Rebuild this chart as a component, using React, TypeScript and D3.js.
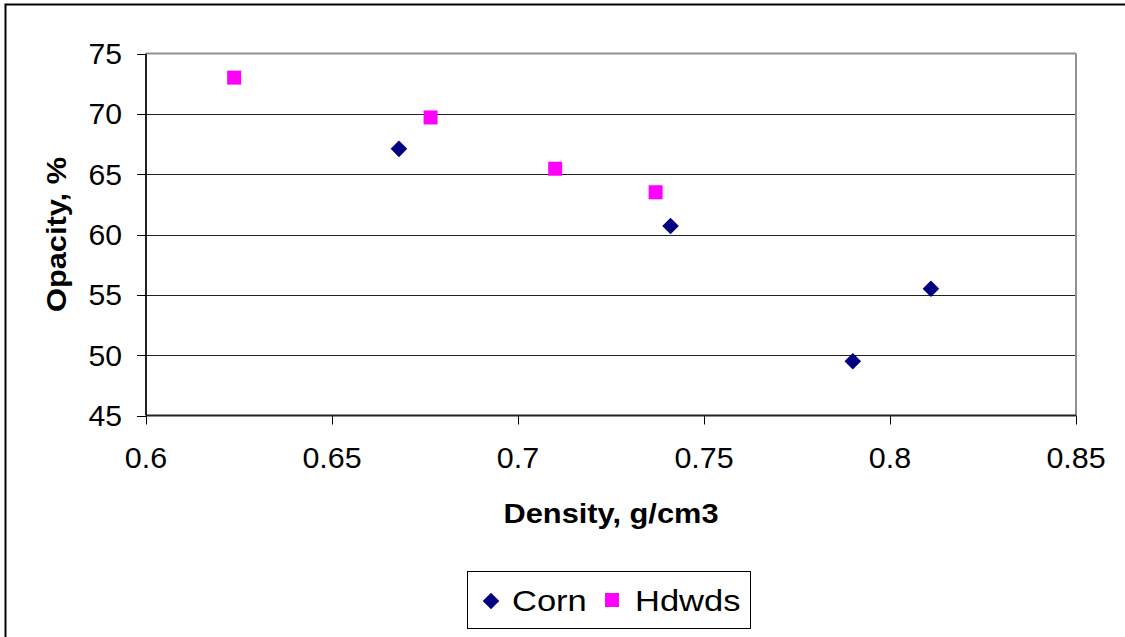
import React from 'react';
import * as d3 from 'd3';

// Density (g/cm3) vs Opacity (%)
const cornDensity = [0.668, 0.741, 0.790, 0.811];
const cornOpacity = [67.1, 60.7, 49.5, 55.5];
const hdwdsDensity = [0.6237, 0.6765, 0.710, 0.737];
const hdwdsOpacity = [73.0, 69.7, 65.45, 63.5];

const xTicks = [0.6, 0.65, 0.7, 0.75, 0.8, 0.85];
const yTicks = [45, 50, 55, 60, 65, 70, 75];

const W = 1125;
const H = 637;
const FONT = "'Liberation Sans', Arial, sans-serif";

const App = () => {
    // plot area
    const left = 146, right = 1076, top = 53.5, bottom = 415.5;

    const x = d3.scaleLinear().domain([0.6, 0.85]).range([left, right]);
    const y = d3.scaleLinear().domain([45, 75]).range([bottom, top]);

    const diamond = (cx: number, cy: number, r: number) =>
        `M${cx},${cy - r}L${cx + r},${cy}L${cx},${cy + r}L${cx - r},${cy}Z`;

    const corn = cornDensity.map((d, i) => ({ x: d, y: cornOpacity[i] }));
    const hdwds = hdwdsDensity.map((d, i) => ({ x: d, y: hdwdsOpacity[i] }));

    return (
        <svg width={W} height={H} style={{ position: 'absolute', left: 0, top: 0, background: '#fff' }}>
            {/* outer chart border (runs off the right and bottom) */}
            <rect x={5.5} y={4.5} width={1300} height={800} fill="#fff" stroke="#000" strokeWidth={2} />

            {/* gridlines */}
            {yTicks.filter(t => t !== 45 && t !== 75).map(t => (
                <line key={'g' + t} x1={left} x2={right} y1={Math.round(y(t)) + 0.5} y2={Math.round(y(t)) + 0.5}
                    stroke="#222" strokeWidth={1} />
            ))}

            {/* plot area border: top and right gray */}
            <line x1={left} x2={right} y1={top} y2={top} stroke="#909090" strokeWidth={2} />
            <line x1={right} x2={right} y1={top} y2={bottom} stroke="#909090" strokeWidth={2} />

            {/* y axis */}
            <line x1={left} x2={left} y1={top} y2={bottom} stroke="#222" strokeWidth={2} />
            {yTicks.map(t => (
                <g key={'y' + t}>
                    <line x1={left - 9} x2={left} y1={Math.round(y(t)) + 0.5} y2={Math.round(y(t)) + 0.5} stroke="#000" />
                    <text transform={`translate(122,${y(t) + 10.5}) scale(1.04,1)`} textAnchor="end"
                        fontFamily={FONT} fontSize={29} fill="#000">
                        {t}
                    </text>
                </g>
            ))}

            {/* x axis */}
            <line x1={left} x2={right} y1={bottom} y2={bottom} stroke="#222" strokeWidth={2} />
            {xTicks.map(t => (
                <g key={'x' + t}>
                    <line x1={Math.round(x(t)) + 0.5} x2={Math.round(x(t)) + 0.5} y1={bottom} y2={bottom + 9} stroke="#000" />
                    <text transform={`translate(${x(t)},468) scale(1.05,1)`} textAnchor="middle"
                        fontFamily={FONT} fontSize={29} fill="#000">
                        {t}
                    </text>
                </g>
            ))}

            {/* axis titles */}
            <text transform={`translate(${(left + right) / 2},523) scale(1.1,1)`} textAnchor="middle"
                fontFamily={FONT} fontSize={28} fontWeight="bold" fill="#000">Density, g/cm3</text>
            <text transform={`translate(66,${(top + bottom) / 2}) rotate(-90) scale(1.1,1)`} textAnchor="middle"
                fontFamily={FONT} fontSize={28} fontWeight="bold" fill="#000">Opacity, %</text>

            {/* data */}
            {corn.map((d, i) => (
                <path key={'c' + i} d={diamond(x(d.x), y(d.y), 8.3)} fill="#000080" />
            ))}
            {hdwds.map((d, i) => (
                <rect key={'h' + i} x={x(d.x) - 7} y={y(d.y) - 7} width={14} height={14} fill="#FF00FF" />
            ))}

            {/* legend */}
            <rect x={467.5} y={571.5} width={283} height={57} fill="#fff" stroke="#000" strokeWidth={1} />
            <path d={diamond(491, 601, 8.3)} fill="#000080" />
            <text transform="translate(512,611) scale(1.15,1)" fontFamily={FONT} fontSize={30} fill="#000">Corn</text>
            <rect x={605} y={593} width={14} height={14} fill="#FF00FF" />
            <text transform="translate(635,611) scale(1.15,1)" fontFamily={FONT} fontSize={30} fill="#000">Hdwds</text>
        </svg>
    );
};

export default App;
